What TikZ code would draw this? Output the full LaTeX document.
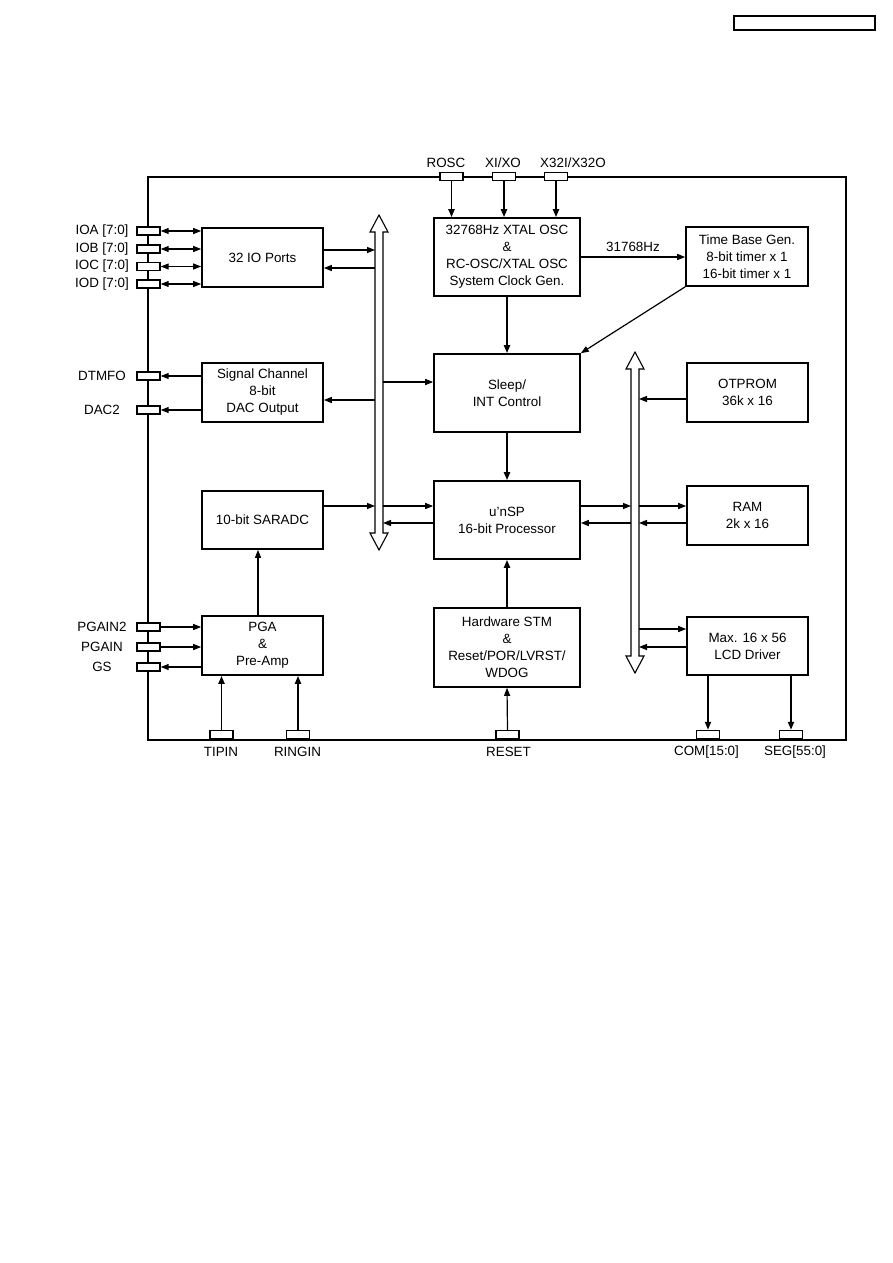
\documentclass[tikz,border=0pt]{standalone}
\usepackage{fontspec}
\setmainfont{Liberation Sans}
\usetikzlibrary{arrows.meta}
\begin{document}
\begin{tikzpicture}[x=1pt,y=-1pt,
  txt/.style={font=\fontsize{13.4}{17}\selectfont},
  box/.style={draw, line width=1.6pt, minimum width=121pt, minimum height=59pt, inner sep=0pt, align=center, txt},
  cbox/.style={box, minimum width=146pt, minimum height=78pt},
  pin/.style={draw, line width=1.4pt, minimum width=23pt, minimum height=8pt, inner sep=0pt, fill=white},
  lbl/.style={txt, inner sep=0pt},
  arr/.style={-{Triangle[length=8pt,width=6pt]}, line width=1.2pt},
  darr/.style={{Triangle[length=8pt,width=6pt]}-{Triangle[length=8pt,width=6pt]}, line width=1.1pt},
  thk/.style={line width=1.9pt},
  busnode/.style={minimum width=8pt, inner sep=0pt, outer sep=0pt},
  bus/.style={draw, line width=1.1pt, fill=white, line join=miter}
]
\useasboundingbox (0,0) rectangle (893,1263);

% header box
\node[draw, line width=1.2pt, minimum width=141pt, minimum height=14pt, inner sep=0pt] (hdr) at (804.5,23) {};

% frame
\draw[line width=1.4pt] (148,177) rectangle (846,740);

% blocks
\node[box] (io) at (262.5,257.5) {32 IO Ports};
\node[box] (sig) at (262.5,392.5) {Signal Channel\\8-bit\\DAC Output};
\node[box, minimum height=58pt] (sar) at (262.5,520) {10-bit SARADC};
\node[box] (pga) at (262.5,645.5) {PGA\\\&\\Pre-Amp};
\node[cbox] (osc) at (507,257) {32768Hz XTAL OSC\\\&\\RC-OSC/XTAL OSC\\System Clock Gen.};
\node[cbox] (sleep) at (507,393) {Sleep/\\INT Control};
\node[cbox] (cpu) at (507,520) {u'nSP\\16-bit Processor};
\node[cbox, minimum height=79pt] (hw) at (507,647.5) {Hardware STM\\\&\\Reset/POR/LVRST/\\WDOG};
\node[box, minimum width=122pt] (tb) at (747,256.5) {Time Base Gen.\\8-bit timer x 1\\16-bit timer x 1};
\node[box] (otp) at (747.5,392.5) {OTPROM\\36k x 16};
\node[box] (ram) at (747.5,515.5) {RAM\\2k x 16};
\node[box, minimum height=58pt] (lcd) at (747.5,646) {Max. 16 x 56\\LCD Driver};

% buses
\node[busnode, minimum height=335pt] (lbus) at (379,382.5) {};
\node[busnode, minimum height=321pt] (rbus) at (635,512.5) {};
\foreach \b in {lbus,rbus}{
  \draw[bus] (\b.north) -- ([xshift=9pt,yshift=-17pt]\b.north) -- ([xshift=4pt,yshift=-17pt]\b.north)
    -- ([xshift=4pt,yshift=17pt]\b.south) -- ([xshift=9pt,yshift=17pt]\b.south) -- (\b.south)
    -- ([xshift=-9pt,yshift=17pt]\b.south) -- ([xshift=-4pt,yshift=17pt]\b.south)
    -- ([xshift=-4pt,yshift=-17pt]\b.north) -- ([xshift=-9pt,yshift=-17pt]\b.north) -- cycle;
}

% left pins
\node[pin] (pioa) at (148.5,231) {};
\node[pin] (piob) at (148.5,249) {};
\node[pin] (pioc) at (148.5,266.5) {};
\node[pin] (piod) at (148.5,284) {};
\node[pin] (pdtmf) at (148.5,376) {};
\node[pin] (pdac) at (148.5,410) {};
\node[pin] (ppg2) at (148.5,627) {};
\node[pin] (ppg) at (148.5,647) {};
\node[pin] (pgs) at (148.5,667) {};
\node[lbl] (lioa) at (102,231) {IOA [7:0]};
\node[lbl] (liob) at (102,249) {IOB [7:0]};
\node[lbl] (lioc) at (102,266.5) {IOC [7:0]};
\node[lbl] (liod) at (102,284) {IOD [7:0]};
\node[lbl] (ldtmf) at (102,376) {DTMFO};
\node[lbl] (ldac) at (102,410) {DAC2};
\node[lbl] (lpg2) at (102,627) {PGAIN2};
\node[lbl] (lpg) at (102,647) {PGAIN};
\node[lbl] (lgs) at (102,667) {GS};

% top pins
\node[pin] (prosc) at (451.5,176.5) {};
\node[pin] (pxi) at (504,176.5) {};
\node[pin] (px32) at (556,176.5) {};
\node[lbl] (lrosc) at (446,163) {ROSC};
\node[lbl] (lxi) at (503,163) {XI/XO};
\node[lbl] (lx32) at (573,163) {X32I/X32O};

% bottom pins
\node[pin] (ptip) at (221.5,734.5) {};
\node[pin] (pring) at (298,734.5) {};
\node[pin] (preset) at (507.5,734.5) {};
\node[pin] (pcom) at (708,734.5) {};
\node[pin] (pseg) at (791,734.5) {};
\node[lbl] (ltip) at (221,752) {TIPIN};
\node[lbl] (lring) at (297.5,752) {RINGIN};
\node[lbl] (lreset) at (508.5,752) {RESET};
\node[lbl] (lcom) at (706.5,752) {COM[15:0]};
\node[lbl] (lseg) at (795,752) {SEG[55:0]};

% IO connections
\foreach \p in {pioa,piob,pioc,piod}{
  \draw[darr] (\p.east) -- (\p.east -| io.west);
}
\draw[arr] ([yshift=7.5pt]io.east) -- ([yshift=7.5pt]io.east -| lbus.west);
\draw[arr] ([yshift=-10.5pt]io.east -| lbus.west) -- ([yshift=-10.5pt]io.east);

% signal channel
\draw[arr] (pdtmf.east -| sig.west) -- (pdtmf.east);
\draw[arr] (pdac.east -| sig.west) -- (pdac.east);
\draw[arr] ([yshift=-7.5pt]sig.east -| lbus.west) -- ([yshift=-7.5pt]sig.east);

% sleep / cpu to left bus
\draw[arr] ([yshift=11pt]sleep.west -| lbus.east) -- ([yshift=11pt]sleep.west);
\draw[arr] ([yshift=14pt]sar.east) -- ([yshift=14pt]sar.east -| lbus.west);
\draw[arr] ([yshift=14pt]cpu.west -| lbus.east) -- ([yshift=14pt]cpu.west);
\draw[arr] ([yshift=-3pt]cpu.west) -- ([yshift=-3pt]cpu.west -| lbus.east);

% cpu to right bus
\draw[arr] ([yshift=14pt]cpu.east) -- ([yshift=14pt]cpu.east -| rbus.west);
\draw[arr] ([yshift=-3pt]cpu.east -| rbus.west) -- ([yshift=-3pt]cpu.east);

% memory & lcd
\draw[arr] ([yshift=-6.5pt]otp.west) -- ([yshift=-6.5pt]otp.west -| rbus.east);
\draw[arr] ([yshift=9.5pt]ram.west -| rbus.east) -- ([yshift=9.5pt]ram.west);
\draw[arr] ([yshift=-7.5pt]ram.west) -- ([yshift=-7.5pt]ram.west -| rbus.east);
\draw[arr] ([yshift=17pt]lcd.west -| rbus.east) -- ([yshift=17pt]lcd.west);
\draw[arr] ([yshift=-1pt]lcd.west) -- ([yshift=-1pt]lcd.west -| rbus.east);

% oscillator
\draw[arr, thk] (prosc.south) -- (prosc.south |- osc.north);
\draw[arr, thk] (pxi.south) -- (pxi.south |- osc.north);
\draw[arr, thk] (px32.south) -- (px32.south |- osc.north);
\draw[arr] (osc.east) -- (osc.east -| tb.west) node[midway, above=5pt, lbl] (lfreq) {31768Hz};
\draw[arr, thk] (osc.south) -- (sleep.north);
\draw[arr] (tb.south west) -- (sleep.north east);
\draw[arr, thk] (sleep.south) -- (cpu.north);
\draw[arr, thk] (hw.north) -- (cpu.south);
\draw[arr] (preset.north) -- (hw.south);

% analog
\draw[arr] ([xshift=-4.5pt]pga.north) -- ([xshift=-4.5pt]sar.south);
\draw[arr] (ppg2.east) -- (ppg2.east -| pga.west);
\draw[arr] (ppg.east) -- (ppg.east -| pga.west);
\draw[arr] (pgs.east -| pga.west) -- (pgs.east);
\draw[arr, thk] (ptip.north) -- (ptip.north |- pga.south);
\draw[arr, thk] (pring.north) -- (pring.north |- pga.south);

% lcd outputs
\draw[arr, thk] (pcom.north |- lcd.south) -- (pcom.north);
\draw[arr, thk] (pseg.north |- lcd.south) -- (pseg.north);
\end{tikzpicture}
\end{document}
